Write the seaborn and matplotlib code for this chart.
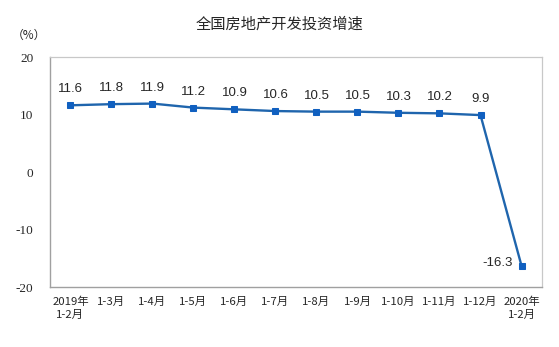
import pandas as pd
import numpy as np
import matplotlib
matplotlib.use('Agg')
import matplotlib.pyplot as plt
import seaborn as sns

sns.set_style('white')
plt.rcParams['font.family'] = ['Noto Sans CJK SC', 'DejaVu Sans']

# chart data
periods = ['2019年\n1-2月', '1-3月', '1-4月', '1-5月', '1-6月', '1-7月',
           '1-8月', '1-9月', '1-10月', '1-11月', '1-12月', '2020年\n1-2月']
growth = [11.6, 11.8, 11.9, 11.2, 10.9, 10.6, 10.5, 10.5, 10.3, 10.2, 9.9, -16.3]
y_ticks = [-20, -10, 0, 10, 20]

df = pd.DataFrame({'period': periods, 'growth': growth})
df['pos'] = np.arange(len(df))

fig = plt.figure(figsize=(5.59, 3.47), dpi=100)
ax = fig.add_axes([0.0894, 0.1729, 0.8802, 0.6628])

line_color = '#1f65ad'
sns.lineplot(data=df, x='pos', y='growth', ax=ax, color=line_color, linewidth=1.7,
             marker='s', markersize=4.2, markerfacecolor='#1060c0',
             markeredgecolor='#1060c0')

# value labels
for i, v in enumerate(growth):
    if v < 0:
        ax.annotate(f'{v}', (i, v), xytext=(-24, 3), textcoords='offset pixels',
                    ha='center', va='center', fontsize=9.5, family='Liberation Sans')
    else:
        ax.annotate(f'{v}', (i, v), xytext=(0, 16), textcoords='offset pixels',
                    ha='center', va='center', fontsize=9.5, family='Liberation Sans')

ax.set_xlim(-0.5, len(periods) - 0.5)
ax.set_ylim(-20, 20)
ax.set_yticks(y_ticks)
ax.set_yticklabels([str(t) for t in y_ticks], family='Liberation Serif', fontsize=9.5)

ax.set_xticks(df['pos'])
ax.set_xticklabels(periods, fontsize=8.2, linespacing=1.4)
ax.set_xticks(np.arange(0.5, len(periods) - 1, 1.0), minor=True)
ax.tick_params(axis='x', which='major', length=0, pad=7)
ax.tick_params(axis='x', which='minor', direction='in', length=4, color='#a0a0a0')
ax.tick_params(axis='y', direction='in', length=4, color='#a0a0a0', pad=12)

ax.set_xlabel('')
ax.set_ylabel('')

for side in ['left', 'bottom']:
    ax.spines[side].set_color('#a0a0a0')
    ax.spines[side].set_linewidth(1.0)
for side in ['top', 'right']:
    ax.spines[side].set_color('#c8c8c8')
    ax.spines[side].set_linewidth(0.9)

fig.text(0.5, 0.93, '全国房地产开发投资增速', ha='center', va='center', fontsize=11)
fig.text(0.051, 0.898, '（%）', ha='center', va='center', fontsize=8.5)

fig.savefig('out.png', dpi=100)
